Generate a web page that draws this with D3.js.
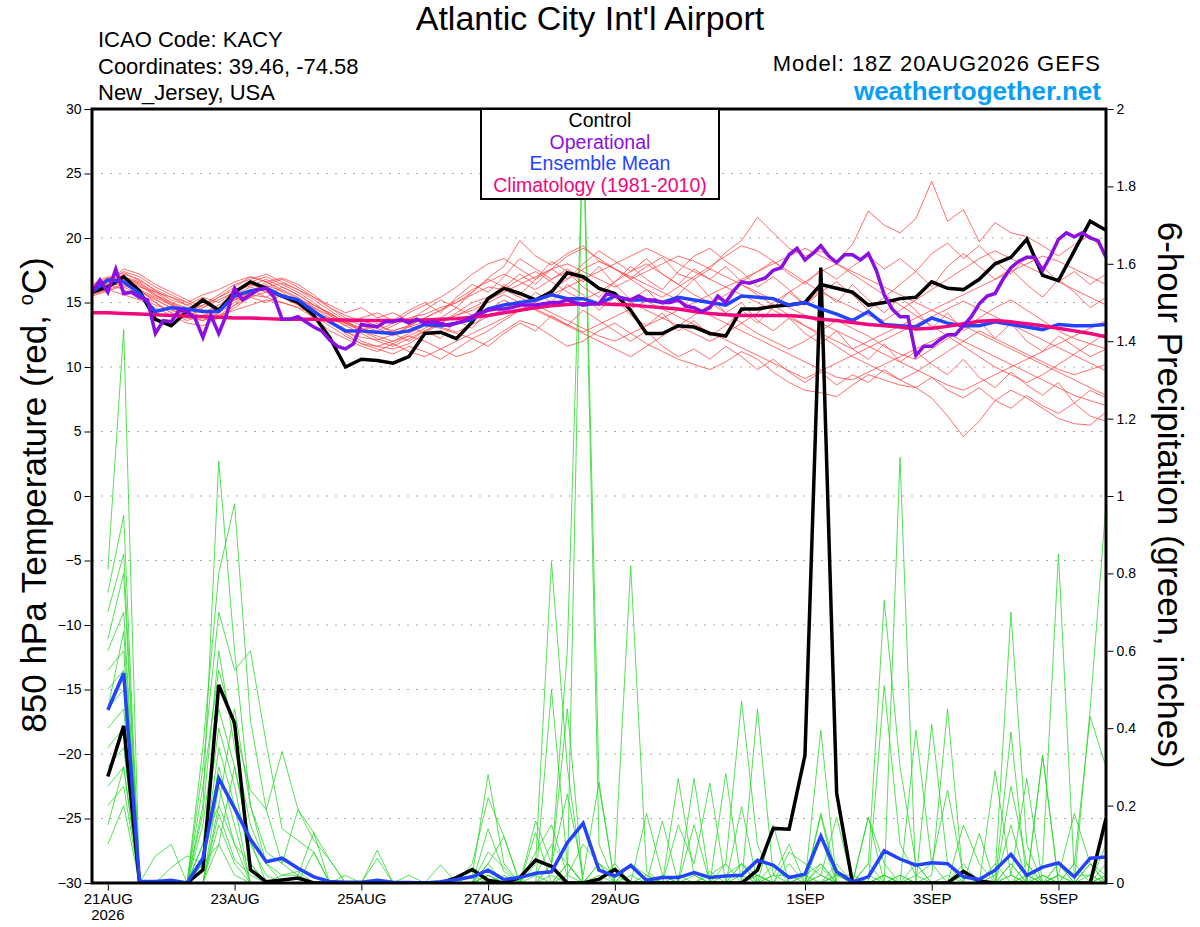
<!DOCTYPE html>
<meta charset="utf-8">
<script src="https://d3js.org/d3.v7.min.js"></script>
<body style="margin:0;background:#fff">
<div id="chart"></div>
<script>

// ---- data ----
// hours after 21AUG 00Z; temps every 6h from 18Z 20AUG, precip every 6h from 00Z 21AUG, operational every 3h
const tempHours = d3.range(-6, 379, 6);
const precipHours = d3.range(0, 379, 6);
const operHours = d3.range(-6, 379, 3);

const tickHours = [0, 48, 96, 144, 192, 264, 312, 360];
const tickLabels = ["21AUG", "23AUG", "25AUG", "27AUG", "29AUG", "1SEP", "3SEP", "5SEP"];

const controlTemp = [15.8,16.2,17.0,15.9,13.7,13.2,14.3,15.2,14.4,15.8,16.6,16.1,15.5,15.0,14.0,12.3,10.0,10.6,10.5,10.3,10.8,12.6,
  12.7,12.2,13.5,15.3,16.1,15.7,15.2,15.8,17.3,17.0,16.1,15.7,14.4,12.6,12.6,13.2,13.1,12.6,12.4,14.5,14.5,
  14.7,14.8,15.0,16.4,16.1,15.8,14.8,15.0,15.3,15.4,16.6,16.1,16.0,16.8,18.0,18.5,19.9,17.1,16.7,19.0,21.3,20.6];

const operTemp = [15.8,16.75,15.8,17.6,15.7,15.8,15.4,15.2,12.6,13.6,13.5,14.4,14.3,13.8,12.3,14.0,12.6,14.1,16.1,15.2,15.6,16.0,
  16.1,15.4,13.7,13.7,13.9,13.5,13.1,12.8,12.1,11.6,11.4,11.8,13.3,13.2,13.1,13.5,13.5,13.7,13.4,13.7,13.4,
  13.5,13.4,13.2,13.4,13.6,13.9,14.2,14.4,14.5,14.5,14.6,14.8,14.8,14.8,14.9,15.0,15.0,15.2,15.0,14.8,14.9,
  14.9,15.7,15.5,15.3,15.2,15.5,15.2,15.2,15.0,15.0,15.2,14.7,14.6,14.3,14.6,15.5,15.0,15.9,16.6,16.5,16.7,16.9,
  17.5,17.7,18.7,19.2,18.3,18.8,19.4,18.6,18.1,18.7,18.7,18.3,18.8,17.5,15.6,14.5,13.9,13.9,10.9,11.6,11.6,
  12.1,12.5,12.5,13.2,13.9,14.9,15.5,15.7,16.8,17.7,18.2,18.5,18.5,17.5,18.6,19.9,20.4,20.1,20.4,20.0,19.8,18.5];

const meanTemp = [15.8,16.75,16.6,15.7,14.3,14.6,14.5,14.3,14.3,15.5,15.9,16.1,15.5,15.2,14.3,13.5,12.8,12.8,12.7,12.6,12.8,13.3,
  13.2,13.4,13.7,14.5,14.8,15.0,15.2,15.6,15.3,15.3,14.9,15.5,15.2,15.2,15.0,15.4,15.2,15.0,14.8,15.5,15.4,
  15.3,14.8,15.0,14.5,14.1,13.6,14.3,13.3,13.2,13.1,13.8,13.4,13.2,13.2,13.5,13.3,13.1,12.9,13.3,13.2,13.2,13.3];

const climoTemp = [14.2,14.2,14.15,14.1,14.05,14.0,13.95,13.9,13.85,13.8,13.8,13.75,13.7,13.7,13.7,13.65,13.65,13.6,13.6,13.6,13.6,13.65,
  13.7,13.75,13.85,14.0,14.2,14.4,14.6,14.75,14.85,14.9,14.9,14.85,14.8,
  14.7,14.6,14.5,14.3,14.15,14.05,14.0,14.0,
  14.0,14.0,13.9,13.7,13.6,13.45,13.3,13.2,13.1,12.95,13.0,13.15,13.35,13.55,13.6,13.5,13.35,13.2,13.0,12.8,12.6,12.35];

const controlPrecip = [.275,.406,0,0,0,0,.034,.512,.413,.034,.003,.008,.013,0,
  0,0,0,0,0,0,0,
  0,.014,.035,.007,0,.014,.059,.043,0,0,.01,.035,0,
  0,0,0,0,0,0,0,
  .033,.141,.139,.33,1.59,.232,0,
  0,0,0,0,0,0,.03,.005,
  0,0,0,0,0,0,0,.167];

const meanPrecip = [.447,.542,.004,.004,.007,0,.064,.27,.193,.113,.055,.064,.038,.016,.004,.002,.002,.007,.002,.001,0,
  .003,.009,.016,.033,.009,.014,.025,.029,.104,.154,.033,.018,.045,.007,.014,.014,.027,.014,.018,.020,.059,.046,.014,.023,
  .121,.029,.003,.016,.083,.062,.046,.052,.05,.016,.009,.033,.074,.02,.041,.052,.016,.064,.067];

// ensemble members, 850 hPa temperature (65 values each)
const memberTemps = [
  [16.0,16.4,17.2,16.8,15.9,15.2,14.8,15.4,15.0,15.9,16.3,16.8,16.2, 15.6,14.8,14.1,13.5,13.0,12.6,13.2,13.8,14.1,14.6,15.0,15.8,16.9,
   17.8,19.8,18.6,17.9,18.8,19.4,18.2,17.6,16.9,17.8,18.5,17.2,16.8, 17.6,18.9,19.8,21.6,20.4,19.2,18.6,19.0,18.2,19.5,22.1,21.0,20.4,
   21.5,24.4,21.3,22.2,19.7,21.2,20.4,20.1,19.4,18.6,19.5,20.2,18.8],
  [15.8,16.2,16.6,16.0,15.0,14.2,13.6,14.0,14.6,15.2,15.6,15.4,15.0, 14.6,13.8,12.8,12.2,11.6,11.2,11.8,12.4,12.0,11.4,10.8,11.2,12.0,
   12.8,13.6,13.2,12.4,11.6,12.0,12.8,13.4,12.6,11.8,11.2,10.6,10.2, 9.8,10.4,11.2,10.6,9.6,8.8,8.2,8.0,7.7,8.6,9.4,9.0,8.6,
   8.4,7.6,6.2,4.6,5.8,7.4,8.2,7.6,6.8,6.0,5.6,5.5,6.5],
  [16.2,16.8,17.0,16.4,15.6,15.0,14.6,14.2,14.8,15.6,16.2,15.8,15.4, 15.0,14.4,13.6,12.8,12.0,11.6,11.4,11.8,12.6,13.4,14.2,15.0,15.4,
   16.0,16.8,17.4,16.6,15.8,15.2,15.8,16.6,17.4,18.0,17.2,16.4,15.6, 15.0,14.2,13.4,12.6,12.0,11.4,12.0,12.8,13.6,13.0,12.4,11.6,11.0,
   10.6,11.4,12.2,13.0,13.8,14.6,15.2,14.4,13.6,12.8,12.2,11.8,11.4],
  [15.6,16.0,16.4,15.8,15.2,14.6,14.0,13.6,14.2,15.0,15.8,16.6,16.9, 16.4,15.6,14.6,13.8,13.2,12.8,13.4,14.2,14.8,15.4,16.2,17.2,18.0,
   18.4,17.6,16.8,17.6,18.6,19.2,18.4,17.6,16.8,16.0,15.4,16.2,17.0, 17.8,18.6,19.4,19.0,18.2,17.4,16.6,15.8,15.2,14.6,14.0,13.6,14.4,
   15.2,16.0,16.8,17.6,18.4,19.0,18.4,17.8,17.2,16.6,16.0,15.4,14.8],
  [16.4,17.0,16.6,16.0,15.4,14.8,14.4,14.8,15.4,16.0,16.4,16.0,15.6, 15.2,14.8,14.2,13.4,12.8,12.4,12.0,12.4,13.0,13.6,14.0,14.4,15.0,
   15.6,15.0,14.4,13.8,13.2,12.6,12.0,11.4,10.8,11.6,12.4,13.2,14.0, 14.8,15.6,16.4,15.6,14.8,14.0,13.2,12.4,11.6,10.8,10.2,9.6,9.0,
   9.6,10.4,11.2,12.0,12.8,12.2,11.6,11.0,10.4,9.8,9.4,9.8,10.2],
  [15.9,16.6,17.4,17.0,16.2,15.6,15.0,14.4,14.0,14.8,15.8,16.4,16.8, 16.2,15.4,14.6,14.0,13.6,13.2,12.8,13.2,13.8,14.4,15.2,16.0,16.6,
   17.2,16.6,16.0,16.8,17.6,16.8,16.2,15.6,15.0,14.4,13.8,13.2,12.6, 12.0,12.6,13.4,14.2,15.0,15.8,16.6,17.4,18.0,17.2,16.4,15.6,14.8,
   14.0,13.2,12.4,11.6,10.8,10.0,9.4,8.8,9.4,10.2,11.0,11.8,12.6],
  [15.7,16.0,15.6,15.2,14.6,14.0,13.4,13.2,13.8,14.6,15.4,15.8,15.4, 14.8,14.0,13.2,12.4,11.8,11.6,12.0,12.6,13.2,13.0,12.6,12.2,12.8,
   13.6,14.4,15.2,16.0,16.8,17.6,18.2,17.6,17.0,16.4,15.8,15.2,14.6, 14.0,13.4,12.8,12.2,11.6,11.0,10.4,9.8,9.2,9.0,9.6,10.2,10.8,
   11.4,12.0,12.6,12.0,11.4,10.8,10.2,9.6,9.0,8.4,7.8,7.4,7.0],
  [16.1,16.5,16.9,16.5,15.8,15.4,15.0,15.6,16.0,16.6,17.0,16.6,16.0, 15.4,14.6,13.8,13.2,12.6,12.0,11.6,12.2,12.8,13.4,14.0,14.6,15.2,
   15.8,16.4,17.0,17.6,18.0,17.4,16.8,16.2,16.8,17.4,18.0,18.6,18.2, 17.6,17.0,16.4,15.8,15.2,14.6,14.0,13.4,12.8,12.2,11.6,11.0,10.4,
   9.8,9.2,8.6,8.2,8.8,9.4,10.0,10.6,11.2,11.8,12.4,13.0,13.6],
  [15.5,15.9,16.3,15.9,15.3,14.5,13.8,13.6,14.0,14.4,14.8,15.2,15.0, 14.6,14.2,13.8,13.4,13.0,12.6,12.8,13.2,13.8,14.4,15.0,15.6,16.2,
   16.0,15.4,14.8,14.2,13.6,13.0,12.4,12.0,12.6,13.2,13.8,14.4,15.0, 15.6,16.2,16.8,17.4,18.0,18.6,19.2,18.6,18.0,17.4,16.8,16.2,15.6,
   15.0,14.4,13.8,13.2,12.6,12.0,11.4,10.8,10.2,9.6,9.0,8.4,7.8],
  [16.3,16.9,17.3,16.7,16.0,15.4,14.8,14.2,14.6,15.2,15.8,16.2,16.5, 16.0,15.2,14.4,13.6,12.8,12.2,11.8,11.2,10.8,11.4,12.0,12.6,13.2,
   13.8,14.4,15.0,15.6,16.2,16.8,17.4,18.0,18.6,19.2,18.6,18.0,17.4, 16.8,16.2,15.6,15.0,14.4,13.8,13.2,12.6,12.0,11.4,12.0,12.6,13.2,
   13.8,14.4,15.0,15.6,16.2,16.8,17.4,18.0,18.6,18.2,17.6,17.0,16.4],
  [15.8,16.3,16.9,16.3,15.5,14.9,14.3,13.9,14.5,15.3,15.9,16.3,15.9, 15.3,14.5,13.5,12.7,12.3,12.1,12.5,13.1,13.5,13.1,12.7,13.3,13.9,
   14.5,15.1,14.5,13.9,13.3,12.7,13.3,13.9,14.5,15.1,14.5,13.9,13.3, 12.7,12.1,11.5,10.9,10.3,9.7,9.1,9.7,10.3,10.9,11.5,12.1,12.7,
   13.3,13.9,14.5,15.1,14.5,13.9,13.3,12.7,12.1,11.5,10.9,10.3,9.7],
  [16.0,16.7,16.2,15.6,15.0,14.2,13.8,14.6,15.2,15.8,16.6,17.0,16.4, 15.8,15.0,14.0,13.4,13.8,13.0,12.4,13.2,12.6,13.8,14.6,14.0,15.2,
   16.4,15.6,16.8,18.2,17.4,16.6,17.8,16.4,15.2,16.0,14.8,15.6,16.8, 15.4,14.2,15.0,13.6,12.8,13.8,12.6,11.8,12.8,11.4,10.6,11.8,10.4,
   11.2,10.2,9.4,10.6,9.2,8.4,9.6,8.6,7.8,8.8,7.2,8.2,7.6],
  [15.6,16.1,16.8,16.2,15.8,15.0,14.4,15.0,14.4,15.2,16.0,15.4,16.2, 15.6,14.8,14.2,13.4,12.8,13.4,12.6,12.0,12.8,12.2,13.6,13.0,14.4,
   15.2,14.6,15.8,15.0,16.4,15.6,14.4,15.4,14.0,13.2,14.2,12.8,13.6, 12.4,13.2,14.4,13.4,14.6,15.8,14.8,16.0,15.0,16.4,15.2,14.2,15.4,
   14.4,13.0,14.2,12.8,13.6,12.2,13.4,12.0,11.2,12.4,11.6,10.8,11.4],
  [16.2,16.6,17.6,17.2,16.4,15.8,15.2,14.6,15.4,16.2,17.0,16.6,15.8, 15.0,14.6,14.0,13.2,13.8,14.2,13.6,14.4,15.0,14.2,15.4,16.4,15.8,
   17.0,18.4,17.6,16.8,17.4,16.2,15.4,16.6,17.8,16.8,16.0,17.4,18.6, 19.2,18.2,17.4,16.2,17.0,16.0,14.8,15.8,16.6,15.6,14.4,15.4,16.4,
   17.4,16.2,17.8,18.8,17.8,16.8,17.6,16.4,15.4,16.8,15.8,14.6,15.4],
  [15.9,16.4,16.0,15.4,14.8,14.4,14.0,14.4,13.8,14.8,15.4,15.0,15.6, 15.0,14.4,13.6,12.6,11.8,11.4,11.0,11.6,11.2,10.6,11.4,12.2,11.6,
   12.6,13.4,12.8,14.0,13.2,14.4,13.6,12.8,12.0,12.8,11.6,10.8,11.4, 10.6,11.6,10.8,9.8,10.6,9.6,8.8,9.6,8.6,9.4,8.8,9.8,9.0,
   8.4,9.2,8.2,7.6,8.4,7.4,6.8,7.8,7.0,6.4,7.2,6.2,5.8],
  [16.1,16.8,17.0,16.6,15.6,14.8,14.2,14.8,15.6,16.4,16.8,17.2,16.6, 16.0,15.4,14.8,14.2,14.6,13.8,14.2,13.6,14.4,15.2,14.6,15.8,16.8,
   16.2,17.2,16.4,17.6,16.8,18.0,19.0,18.2,17.4,18.4,17.2,16.4,17.6, 16.8,17.8,16.6,17.4,18.2,17.2,16.4,17.6,16.8,17.8,18.6,17.6,18.4,
   17.4,18.8,19.6,18.4,19.4,18.2,17.2,18.6,17.8,16.6,17.4,16.4,17.2]
];

// ensemble members, 6-hour precipitation in inches (64 values each)
const memberPrecips = [
  [.81,1.43,0,0,0,0,.20,1.09, .60,.20,.05,0,0,0,0,0, 0,0,0,0,0,0,0,.02, .28,.05,0,.02,.10,.05,0,0,
   0,.05,.02,0,0,0,.02,.05, .47,.10,0,0,.02,.05,0,0, .05,.73,.30,.05,0,0,0,0, .02,.70,.10,0,0,.05,.43,.30],
  [.75,.95,0,.07,.10,0,.35,.80, .98,.42,.19,.34,.19,.13,.06,0, 0,.085,0,0,0,0,0,.05, .22,.12,0,.05,.83,.30,0,.05,
   0,0,.18,.02,0,0,0,.02, .05,.02,0,0,0,.18,.02,0, .17,.05,0,.02,0,0,.02,0, 0,.05,0,0,.02,0,0,0],
  [.70,.85,0,0,0,0,.30,.70, .55,.60,.36,.14,.11,.08,0,0, 0,0,0,0,0,.047,0,0, .14,.03,0,.16,.05,.23,.02,.26,
   0,.05,0,.16,0,.15,0,0, 0,0,.05,0,0,.395,0,0, 0,.51,.10,.02,.05,.24,.02,0, .29,.02,.27,0,.02,.18,.05,0],
  [.63,.80,0,0,0,0,.25,.55, .40,.24,.19,.05,.19,.11,.06,0, 0,0,0,0,0,0,0,0, .05,.12,0,.13,0,.05,0,0,
   .05,.82,.03,0,.27,.02,0,0, 0,0,.02,.10,0,.175,0,0, .17,0,0,.395,.05,0,.05,0, 0,.39,0,.33,0,0,.05,0],
  [.60,.70,0,0,0,0,.15,.45, .30,.11,0,.02,.02,.13,0,.02, 0,0,0,.02,0,0,0,0, .02,0,0,0,.50,.05,0,.02,
   0,0,0,0,.15,.05,.258,0, .05,0,0,.08,.05,.02,0,0, 0,.02,0,0,.41,.05,0,.128, 0,.25,.05,0,0,.05,0,.02],
  [.55,.60,0,0,0,0,.10,.40, .25,.05,0,0,0,.08,0,0, 0,.064,0,0,0,0,0,0, .02,0,0,0,.05,.45,0,0,
   .05,0,0,0,0,0,0,.283, 0,.02,0,0,0,0,.02,0, 0,0,1.10,0,0,0,.02,0, 0,0,.02,0,.05,0,.02,0],
  [.50,.55,0,0,0,0,.05,.35, .20,0,0,0,0,0,0,0, 0,0,0,0,0,0,0,0, 0,0,0,0,.05,.60,1.95,.10,
   0,0,0,.02,0,.27,0,0, .197,0,0,0,.02,0,.05,0, 0,0,0,0,.02,.45,0,0, 0,.02,0,.33,0,0,0,.05],
  [.45,.50,0,0,0,0,.05,.30, .15,0,0,0,0,0,0,0, 0,0,0,0,0,0,0,.02, 0,.02,0,0,0,.02,.10,.05,
   .02,0,0,0,.02,0,0,.05, 0,.45,.02,0,0,.02,0,0, .05,0,.02,0,0,0,.15,.05, 0,0,0,.05,.85,.02,.02,0],
  [.40,.45,0,0,0,0,0,.25, .10,0,0,0,0,0,0,0, 0,0,0,0,0,0,0,0, 0,0,.02,.02,0,0,2.0,.25,
   0,0,0,0,0,0,0,0, 0,0,.02,.02,0,0,.02,.02, 0,0,0,0,0,0,0,0, .05,0,0,.02,0,0,.05,.02],
  [.35,.40,0,0,0,0,0,.20, .10,.05,0,0,0,0,0,0, 0,0,0,0,0,0,0,0, .05,0,0,0,0,0,0,.05,
   0,0,0,0,0,0,0,0, .05,0,.15,0,0,0,0,0, 0,.02,0,0,0,0,0,0, 0,.05,0,0,.05,0,.45,.98],
  [.30,.35,0,0,0,0,0,.18, .06,.02,0,0,0,0,0,0, 0,0,0,0,0,0,0,0, 0,0,0,0,0,0,0,0,
   0,0,.02,0,0,0,0,0, .02,0,0,.05,0,.02,.17,0, 0,0,.02,0,0,0,0,0, 0,0,0,0,0,0,0,.02],
  [.25,.30,0,0,0,0,0,.15, .05,0,0,0,0,0,0,0, 0,0,0,0,0,0,0,0, 0,0,0,0,.02,0,0,0,
   0,0,0,0,0,0,0,0, 0,0,0,0,0,0,0,0, 0,.02,0,0,0,0,0,0, 0,.02,0,0,0,0,0,0],
  [.20,.25,0,0,0,0,0,.10, .02,0,0,0,0,0,0,0, 0,0,0,0,0,0,0,0, 0,0,0,0,0,0,0,0,
   0,0,0,0,0,0,.03,0, 0,0,0,0,0,.04,0,0, 0,0,0,0,0,0,0,0, 0,0,0,.02,0,0,0,0],
  [.10,.20,0,0,.04,.07,.05,.10, .30,.10,.02,0,0,0,0,0, 0,0,0,0,0,0,0,0, .02,0,0,0,0,.05,0,0,
   0,0,0,0,0,.02,0,0, 0,.02,0,0,0,0,0,0, .02,0,0,0,0,0,0,0, 0,0,.02,0,0,0,0,0],
  [.15,.30,0,0,0,0,.10,.20, .45,.20,.08,.05,.02,0,0,0, 0,0,0,0,0,0,0,0, .08,.04,0,0,0,0,0,0,
   0,0,0,0,0,0,0,0, 0,0,0,0,0,.12,0,0, 0,0,0,0,0,0,0,0, 0,.15,0,0,0,0,0,0],
  [.45,.65,0,0,0,0,.18,.60, .35,.15,.05,.02,.03,0,0,0, 0,0,0,0,0,0,0,0, 0,0,0,.08,.15,.02,0,0,
   0,.02,0,0,0,0,0,0, 0,0,0,0,0,.05,0,0, 0,0,0,.05,0,.02,0,0, 0,0,.05,0,.02,0,0,.10]
];

// ---- layout ----
const W = 1200, H = 927;
const plot = {left: 92, right: 1106, top: 109, bottom: 883};
const font = "'Liberation Sans', Arial, Helvetica, sans-serif";

const svg = d3.select("#chart").append("svg")
    .attr("width", W).attr("height", H)
    .style("font-family", font);

svg.append("rect").attr("width", W).attr("height", H).attr("fill", "#fff");

const x = d3.scaleLinear().domain([-6, 378]).range([plot.left, plot.right]);
const yT = d3.scaleLinear().domain([-30, 30]).range([plot.bottom, plot.top]);
const yP = d3.scaleLinear().domain([0, 2]).range([plot.bottom, plot.top]);

svg.append("clipPath").attr("id", "clip")
  .append("rect")
    .attr("x", plot.left).attr("y", plot.top)
    .attr("width", plot.right - plot.left).attr("height", plot.bottom - plot.top);

// dotted grid on the temperature ticks
svg.append("g")
  .selectAll("line")
  .data(d3.range(-25, 26, 5))
  .enter().append("line")
    .attr("x1", plot.left).attr("x2", plot.right)
    .attr("y1", d => yT(d)).attr("y2", d => yT(d))
    .attr("stroke", "#aaa")
    .attr("stroke-width", 1.2)
    .attr("stroke-dasharray", "2,7");

const data = svg.append("g").attr("clip-path", "url(#clip)");

function tempLine(hours) {
  return d3.line().x((d, i) => x(hours[i])).y(d => yT(d));
}
function precipLine(hours) {
  return d3.line().x((d, i) => x(hours[i])).y(d => yP(d));
}

// green members
memberPrecips.forEach(function(m) {
  data.append("path")
    .datum(m)
    .attr("d", precipLine(precipHours))
    .attr("fill", "none")
    .attr("stroke", "#2ad82a")
    .attr("stroke-width", 0.8);
});

// red members
memberTemps.forEach(function(m) {
  data.append("path")
    .datum(m)
    .attr("d", tempLine(tempHours))
    .attr("fill", "none")
    .attr("stroke", "#ff4848")
    .attr("stroke-width", 0.8);
});

function thick(values, gen, color) {
  data.append("path")
    .datum(values)
    .attr("d", gen)
    .attr("fill", "none")
    .attr("stroke", color)
    .attr("stroke-width", 3.5)
    .attr("stroke-linejoin", "miter");
}

thick(controlPrecip, precipLine(precipHours), "#000");
thick(meanPrecip, precipLine(precipHours), "#2443ff");
thick(controlTemp, tempLine(tempHours), "#000");
thick(meanTemp, tempLine(tempHours), "#2443ff");
thick(climoTemp, tempLine(tempHours), "#f0087c");
thick(operTemp, tempLine(operHours), "#8a0fe0");

// frame
svg.append("rect")
    .attr("x", plot.left).attr("y", plot.top)
    .attr("width", plot.right - plot.left).attr("height", plot.bottom - plot.top)
    .attr("fill", "none")
    .attr("stroke", "#000")
    .attr("stroke-width", 3);

// axes
const leftAxis = svg.append("g")
    .attr("transform", "translate(" + (plot.left - 1.5) + ",0)")
    .call(d3.axisLeft(yT).tickValues(d3.range(-30, 31, 5)).tickSize(6).tickPadding(3));

const rightAxis = svg.append("g")
    .attr("transform", "translate(" + (plot.right + 1.5) + ",0)")
    .call(d3.axisRight(yP).tickValues(d3.range(0, 11).map(d => d / 5))
      .tickFormat(d => String(+d.toFixed(1))).tickSize(6).tickPadding(3));

const bottomAxis = svg.append("g")
    .attr("transform", "translate(0," + (plot.bottom + 1.5) + ")")
    .call(d3.axisBottom(x).tickValues(tickHours)
      .tickFormat((d, i) => tickLabels[i]).tickSize(6).tickPadding(3));

[leftAxis, rightAxis, bottomAxis].forEach(function(a) {
  a.select(".domain").remove();
  a.selectAll("line").attr("stroke", "#000").attr("stroke-width", 1);
  a.selectAll("text")
    .style("font-family", font)
    .style("font-size", "14px")
    .attr("fill", "#000");
});
bottomAxis.selectAll("text").style("font-size", "15px");

svg.append("text")
    .attr("x", x(0)).attr("y", 920)
    .attr("text-anchor", "middle")
    .style("font-size", "15px")
    .text("2026");

// legend
svg.append("rect")
    .attr("x", 481).attr("y", plot.top)
    .attr("width", 238).attr("height", 90)
    .attr("fill", "#fff")
    .attr("stroke", "#000")
    .attr("stroke-width", 2);

const legendItems = [
  ["Control", "#000"],
  ["Operational", "#8a0fe0"],
  ["Ensemble Mean", "#2443ff"],
  ["Climatology (1981-2010)", "#f0087c"]
];
svg.append("g").selectAll("text")
  .data(legendItems)
  .enter().append("text")
    .attr("x", 600)
    .attr("y", (d, i) => 127 + i * 21.5)
    .attr("text-anchor", "middle")
    .attr("fill", d => d[1])
    .style("font-size", "19.5px")
    .text(d => d[0]);

// titles
svg.append("text")
    .attr("x", 590).attr("y", 30)
    .attr("text-anchor", "middle")
    .style("font-size", "34px")
    .text("Atlantic City Int'l Airport");

const info = ["ICAO Code: KACY", "Coordinates: 39.46, -74.58", "New_Jersey, USA"];
svg.append("g").selectAll("text")
  .data(info)
  .enter().append("text")
    .attr("x", 98)
    .attr("y", (d, i) => 47 + i * 26.5)
    .style("font-size", "22px")
    .text(d => d);

svg.append("text")
    .attr("x", 1101).attr("y", 71)
    .attr("text-anchor", "end")
    .style("font-size", "22px")
    .style("letter-spacing", "1px")
    .text("Model: 18Z 20AUG2026 GEFS");

svg.append("text")
    .attr("x", 1101).attr("y", 100)
    .attr("text-anchor", "end")
    .attr("fill", "#0a9ff5")
    .style("font-size", "26px")
    .style("font-weight", "bold")
    .text("weathertogether.net");

const leftTitle = svg.append("text")
    .attr("transform", "translate(46,495) rotate(-90)")
    .attr("text-anchor", "middle")
    .style("font-size", "35px");
leftTitle.append("tspan").text("850 hPa Temperature (red, ");
leftTitle.append("tspan").attr("dy", -13).style("font-size", "20px").text("o");
leftTitle.append("tspan").attr("dy", 13).text("C)");

svg.append("text")
    .attr("transform", "translate(1158,495) rotate(90)")
    .attr("text-anchor", "middle")
    .style("font-size", "35px")
    .text("6-hour Precipitation (green, inches)");

</script>
</body>
